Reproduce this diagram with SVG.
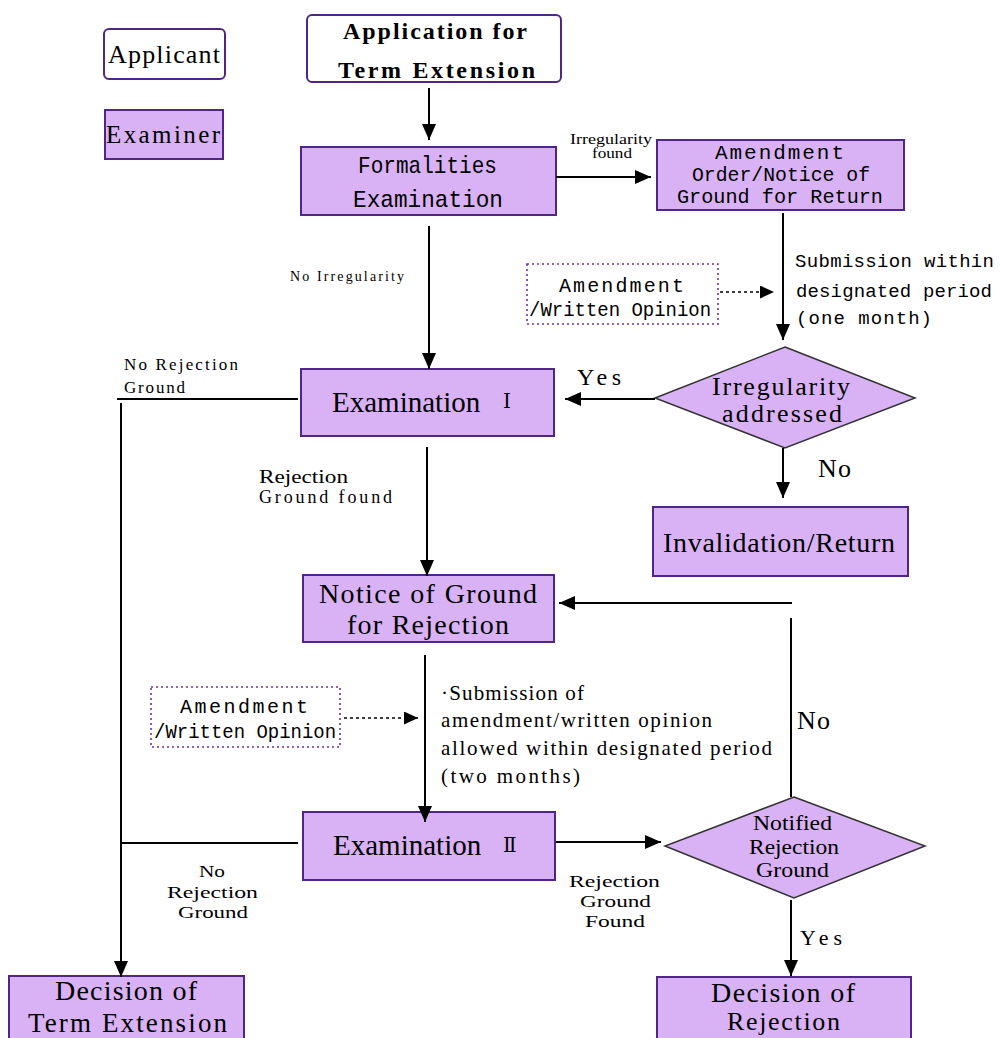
<svg xmlns="http://www.w3.org/2000/svg" width="1000" height="1038" viewBox="0 0 1000 1038">
<style>
.box{fill:#D9B2F5;stroke:#4F2683;stroke-width:2}
.wbox{fill:#FFFFFF;stroke:#4F2683;stroke-width:2}
.dbox{fill:#FFFFFF;stroke:#7030A0;stroke-width:1.6;stroke-dasharray:2 3}
.ln{fill:none;stroke:#000;stroke-width:2}
.dl{fill:none;stroke:#000;stroke-width:1.6;stroke-dasharray:3 3}
text{fill:#000;font-family:"Liberation Serif","Noto Serif",serif}
.m{font-family:"Liberation Mono","DejaVu Sans Mono",monospace}
.b{font-weight:bold}
.rn{font-family:"DejaVu Serif","Noto Sans CJK KR",serif}
</style>
<defs>
<marker id="ah" markerUnits="userSpaceOnUse" markerWidth="16" markerHeight="14" refX="16" refY="7" orient="auto">
<path d="M0,0 L16,7 L0,14 Z" fill="#000"/>
</marker>
<marker id="ahs" markerUnits="userSpaceOnUse" markerWidth="14" markerHeight="13" refX="14" refY="6.5" orient="auto">
<path d="M0,0 L14,6.5 L0,13 Z" fill="#000"/>
</marker>
</defs>

<g id="legend-applicant">
<rect class="wbox" x="104" y="29" width="121" height="50" rx="5"/>
<text x="108" y="63" font-size="26" textLength="112">Applicant</text>
</g>
<g id="legend-examiner">
<rect class="box" x="105" y="110" width="118" height="49"/>
<text x="106" y="143" font-size="25" textLength="114">Examiner</text>
</g>

<g id="application">
<rect class="wbox" x="307" y="15" width="254" height="67" rx="5"/>
<text class="b" x="343" y="39" font-size="24" textLength="184">Application for</text>
<text class="b" x="338" y="78" font-size="24" textLength="197">Term Extension</text>
</g>

<g id="formalities">
<rect class="box" x="301" y="147" width="255" height="68"/>
<text class="m" x="358" y="173" font-size="24" textLength="139" lengthAdjust="spacingAndGlyphs">Formalities</text>
<text class="m" x="353" y="207" font-size="24" textLength="150" lengthAdjust="spacingAndGlyphs">Examination</text>
</g>

<g id="amendment-order">
<rect class="box" x="657" y="140" width="247" height="70"/>
<text class="m" x="715" y="159" font-size="21" textLength="129">Amendment</text>
<text class="m" x="692" y="181" font-size="21" textLength="178" lengthAdjust="spacingAndGlyphs">Order/Notice of</text>
<text class="m" x="677" y="203" font-size="21" textLength="206" lengthAdjust="spacingAndGlyphs">Ground for Return</text>
</g>

<g id="amendment-opinion-1">
<rect class="dbox" x="527" y="264" width="191" height="60"/>
<text class="m" x="559" y="292" font-size="20" textLength="125">Amendment</text>
<text class="m" x="529" y="316" font-size="20" textLength="182" lengthAdjust="spacingAndGlyphs">/Written Opinion</text>
</g>

<g id="irregularity-addressed">
<polygon class="box" points="785,347 915,398 785,448 655,398" style="stroke:#333;stroke-width:1.5"/>
<text x="712" y="395" font-size="26" textLength="138">Irregularity</text>
<text x="722" y="422" font-size="26" textLength="120">addressed</text>
</g>

<g id="examination-1">
<rect class="box" x="301" y="369" width="253" height="67"/>
<text x="332" y="412" font-size="29">Examination <tspan class="rn" x="503" y="408" font-size="20">Ⅰ</tspan></text>
</g>

<g id="invalidation">
<rect class="box" x="653" y="507" width="255" height="69"/>
<text x="663" y="552" font-size="28" textLength="232">Invalidation/Return</text>
</g>

<g id="notice-rejection">
<rect class="box" x="303" y="575" width="251" height="67"/>
<text x="319" y="603" font-size="28" textLength="218">Notice of Ground</text>
<text x="347" y="634" font-size="28" textLength="162">for Rejection</text>
</g>

<g id="amendment-opinion-2">
<rect class="dbox" x="151" y="687" width="189" height="60"/>
<text class="m" x="180" y="713" font-size="20" textLength="128">Amendment</text>
<text class="m" x="154" y="738" font-size="20" textLength="182" lengthAdjust="spacingAndGlyphs">/Written Opinion</text>
</g>

<g id="examination-2">
<rect class="box" x="303" y="812" width="252" height="68"/>
<text x="333" y="855" font-size="29">Examination <tspan class="rn" x="503" y="852" font-size="20">Ⅱ</tspan></text>
</g>

<g id="notified-rejection">
<polygon class="box" points="794,797 925,846 794,898 665,846" style="stroke:#333;stroke-width:1.5"/>
<text x="753" y="830" font-size="20" textLength="79" lengthAdjust="spacingAndGlyphs">Notified</text>
<text x="749" y="854" font-size="20" textLength="90" lengthAdjust="spacingAndGlyphs">Rejection</text>
<text x="756" y="877" font-size="20" textLength="73" lengthAdjust="spacingAndGlyphs">Ground</text>
</g>

<g id="decision-extension">
<rect class="box" x="9" y="976" width="235" height="90"/>
<text x="55" y="1000" font-size="28" textLength="142">Decision of</text>
<text x="28" y="1032" font-size="27" textLength="199">Term Extension</text>
</g>

<g id="decision-rejection">
<rect class="box" x="657" y="977" width="254" height="90"/>
<text x="711" y="1002" font-size="28" textLength="144">Decision of</text>
<text x="727" y="1030" font-size="26" textLength="113">Rejection</text>
</g>

<g id="connectors">
<line class="ln" x1="429" y1="88" x2="429" y2="140" marker-end="url(#ah)"/>
<line class="ln" x1="556" y1="177" x2="651" y2="177" marker-end="url(#ah)"/>
<line class="ln" x1="783" y1="213" x2="783" y2="340" marker-end="url(#ah)"/>
<line class="dl" x1="720" y1="292" x2="774" y2="292" marker-end="url(#ahs)"/>
<line class="ln" x1="429" y1="226" x2="429" y2="369" marker-end="url(#ah)"/>
<line class="ln" x1="655" y1="399" x2="565" y2="399" marker-end="url(#ah)"/>
<line class="ln" x1="783" y1="448" x2="783" y2="498" marker-end="url(#ah)"/>
<line class="ln" x1="298" y1="399" x2="117" y2="399"/>
<line class="ln" x1="121" y1="403" x2="121" y2="977" marker-end="url(#ah)"/>
<line class="ln" x1="427" y1="447" x2="427" y2="576" marker-end="url(#ah)"/>
<line class="ln" x1="425" y1="655" x2="425" y2="822" marker-end="url(#ah)"/>
<line class="dl" x1="344" y1="718" x2="418" y2="718" marker-end="url(#ahs)"/>
<line class="ln" x1="298" y1="843" x2="121" y2="843"/>
<line class="ln" x1="556" y1="842" x2="661" y2="842" marker-end="url(#ah)"/>
<line class="ln" x1="791" y1="797" x2="791" y2="618"/>
<line class="ln" x1="792" y1="603" x2="559" y2="603" marker-end="url(#ah)"/>
<line class="ln" x1="791" y1="900" x2="791" y2="976" marker-end="url(#ah)"/>
</g>

<g id="labels">
<text x="570" y="144" font-size="14" textLength="82" lengthAdjust="spacingAndGlyphs">Irregularity</text>
<text x="592" y="158" font-size="14" textLength="40" lengthAdjust="spacingAndGlyphs">found</text>
<text x="290" y="281" font-size="14" textLength="114">No Irregularity</text>
<text class="m" x="795" y="267" font-size="19" textLength="199">Submission within</text>
<text class="m" x="796" y="297" font-size="19" textLength="196">designated period</text>
<text class="m" x="796" y="324" font-size="19" textLength="136">(one month)</text>
<text x="124" y="370" font-size="17" textLength="114">No Rejection</text>
<text x="124" y="393" font-size="17" textLength="61">Ground</text>
<text x="577" y="385" font-size="24" textLength="44">Yes</text>
<text x="818" y="477" font-size="26" textLength="33">No</text>
<text x="259" y="483" font-size="18" textLength="89" lengthAdjust="spacingAndGlyphs">Rejection</text>
<text x="259" y="503" font-size="18" textLength="133">Ground found</text>
<text x="441" y="700" font-size="21" textLength="143">·Submission of</text>
<text x="441" y="727" font-size="21" textLength="271">amendment/written opinion</text>
<text x="441" y="755" font-size="21" textLength="331">allowed within designated period</text>
<text x="441" y="783" font-size="21" textLength="139">(two months)</text>
<text x="797" y="729" font-size="26" textLength="33">No</text>
<text x="199" y="877" font-size="17" textLength="26" lengthAdjust="spacingAndGlyphs">No</text>
<text x="167" y="898" font-size="17" textLength="91" lengthAdjust="spacingAndGlyphs">Rejection</text>
<text x="178" y="918" font-size="17" textLength="70" lengthAdjust="spacingAndGlyphs">Ground</text>
<text x="569" y="887" font-size="17" textLength="91" lengthAdjust="spacingAndGlyphs">Rejection</text>
<text x="580" y="907" font-size="17" textLength="71" lengthAdjust="spacingAndGlyphs">Ground</text>
<text x="585" y="927" font-size="17" textLength="60" lengthAdjust="spacingAndGlyphs">Found</text>
<text x="800" y="945" font-size="22" textLength="42">Yes</text>
</g>
</svg>
